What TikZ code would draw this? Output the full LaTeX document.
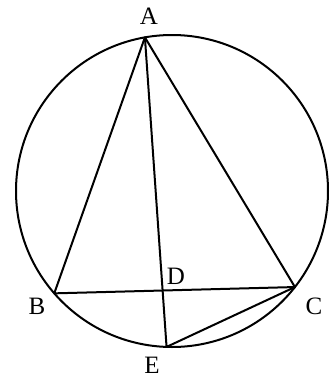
\documentclass[tikz,border=0pt]{standalone}
\usepackage{fontspec}
\setmainfont{Liberation Serif}
\usetikzlibrary{calc,intersections}
\begin{document}
\begin{tikzpicture}[x=1pt,y=-1pt,
  geo/.style={line width=2pt,line join=round},
  lbl/.style={font=\fontsize{25}{25}\selectfont,inner sep=0pt}]
\useasboundingbox (0,0) rectangle (331,378);
\coordinate (O) at (172,191);
\def\R{156}
\coordinate (A) at ($(O)+(100:\R pt)$);
\coordinate (B) at ($(O)+(221:\R pt)$);
\coordinate (C) at ($(O)+(322:\R pt)$);
\coordinate (E) at ($(O)+(268:\R pt)$);
\draw[geo] (O) circle (\R pt);
\path[name path=ae] (A) -- (E);
\path[name path=bc] (B) -- (C);
\path[name intersections={of=ae and bc,by=D}];
\draw[geo] (A) -- (B) -- (C) -- cycle;
\draw[geo] (A) -- (E) -- (C);
\node[lbl] (lA) at (149,16) {A};
\node[lbl] (lB) at (37,306) {B};
\node[lbl] (lC) at (314,306) {C};
\node[lbl] (lD) at (176,276) {D};
\node[lbl] (lE) at (152,365) {E};
\end{tikzpicture}
\end{document}
